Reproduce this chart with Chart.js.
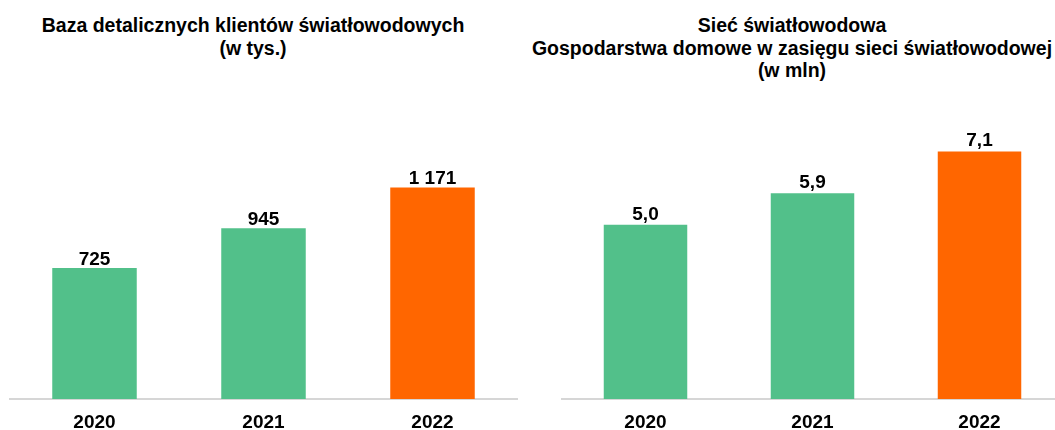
<!DOCTYPE html>
<html>
<head>
<meta charset="utf-8">
<script src="https://cdn.jsdelivr.net/npm/chart.js@4"></script>
<style>
  html, body { margin: 0; padding: 0; background: #fff; overflow: hidden; }
  body { width: 1055px; height: 430px; position: relative; }
  .title {
    position: absolute; top: 14px; width: 600px; text-align: center;
    font: bold 19.5px "Liberation Sans", Arial, sans-serif; line-height: 22.5px; color: #000;
    white-space: nowrap;
  }
  #leftTitle { left: -47px; }   /* centred at x=253 */
  #rightTitle { left: 492px; }  /* centred at x=792 */
  .box { position: absolute; top: 0; }
  #leftBox { left: 0; width: 527px; height: 434px; }
  #rightBox { left: 540px; width: 530px; height: 434px; }
</style>
</head>
<body>
<div class="title" id="leftTitle">Baza detalicznych klientów światłowodowych<br>(w tys.)</div>
<div class="title" id="rightTitle">Sieć światłowodowa<br>Gospodarstwa domowe w zasięgu sieci światłowodowej<br>(w mln)</div>
<div class="box" id="leftBox"><canvas id="clientsChart"></canvas></div>
<div class="box" id="rightBox"><canvas id="networkChart"></canvas></div>

<script>
// data
const years = ["2020", "2021", "2022"];
const clients = [725, 945, 1171];       // w tys.
const households = [5.0, 5.9, 7.1];     // w mln
const barColors = ["#52C08A", "#52C08A", "#FF6600"];

const FONT = "'Liberation Sans', Arial, sans-serif";

// value labels above the bars
const valueLabels = {
  id: "valueLabels",
  afterDatasetsDraw(chart, args, opts) {
    const ctx = chart.ctx;
    const meta = chart.getDatasetMeta(0);
    ctx.save();
    ctx.font = "bold 19px " + FONT;
    ctx.fillStyle = "#000";
    ctx.textAlign = "center";
    ctx.textBaseline = "alphabetic";
    meta.data.forEach((bar, i) => {
      const v = chart.data.datasets[0].data[i];
      ctx.fillText(opts.format(v), bar.x, bar.y - opts.gap);
    });
    ctx.restore();
  }
};

function makeChart(id, values, yMax, pad, fmt, gap) {
  return new Chart(document.getElementById(id), {
    type: "bar",
    data: {
      labels: years,
      datasets: [{
        data: values,
        backgroundColor: barColors,
        borderWidth: 0,
        barPercentage: 0.5,
        categoryPercentage: 1.0
      }]
    },
    options: {
      responsive: true,
      maintainAspectRatio: false,
      animation: false,
      layout: { padding: pad },
      plugins: {
        legend: { display: false },
        tooltip: { enabled: false },
        valueLabels: { format: fmt, gap: gap }
      },
      scales: {
        x: {
          grid: { display: false, drawTicks: false },
          border: { display: true, color: "#d6d6d6", width: 2 },
          ticks: {
            color: "#000",
            padding: 12,
            font: { family: FONT, size: 19, weight: "bold" }
          },
          afterFit(scale) { scale.height = 35; }
        },
        y: {
          display: false,
          min: 0,
          max: yMax
        }
      }
    },
    plugins: [valueLabels]
  });
}

// "1 171" style thousands
const fmtThousands = v => String(v).replace(/\B(?=(\d{3})+(?!\d))/g, " ");
// "5,0" decimal comma
const fmtDecimal = v => v.toFixed(1).replace(".", ",");

makeChart("clientsChart", clients, 1600, { top: 110, left: 10, right: 10, bottom: 0 }, fmtThousands, 3);
makeChart("networkChart", households, 8, { top: 120, left: 22, right: 7, bottom: 0 }, fmtDecimal, 5);
</script>
</body>
</html>
